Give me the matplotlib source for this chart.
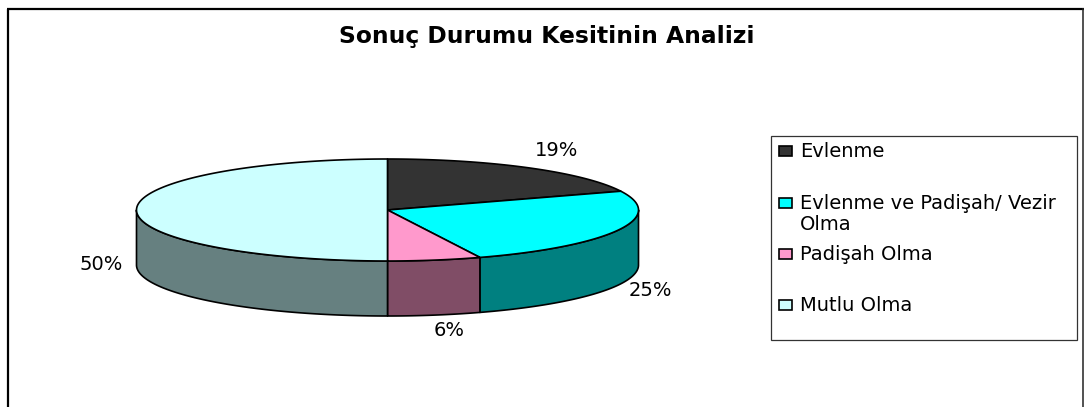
import numpy as np
import matplotlib
matplotlib.use("Agg")
import matplotlib.pyplot as plt
from matplotlib.patches import Rectangle

plt.rcParams['font.family'] = ['DejaVu Sans']

title = "Sonuç Durumu Kesitinin Analizi"
categories = ["Evlenme", "Evlenme ve Padişah/ Vezir\nOlma", "Padişah Olma", "Mutlu Olma"]
values = [19, 25, 6, 50]
top_colors = ["#333333", "#00FFFF", "#FF99CC", "#CCFFFF"]
side_colors = ["#1A1A1A", "#008080", "#804D66", "#668080"]

CX, CY, RX, RY, DEPTH = 387.5, 210, 251, 51, 55
LABEL_POS = [(557, 150), (650, 291), (449, 331), (101, 265)]
LEGEND_Y = [151, 203, 254, 305]
LINE = 1.2


def rim(a, b):
    # angles in degrees, clockwise from north
    t = np.radians(np.linspace(a, b, 200))
    return CX + RX * np.sin(t), CY - RY * np.cos(t)


fig = plt.figure(figsize=(10.84, 4.07), dpi=100)
ax = fig.add_axes([0, 0, 1, 1])
ax.set_xlim(0, 1084)
ax.set_ylim(407, 0)
ax.axis("off")

# outer frame, cut off by the bottom of the image
ax.plot([8, 8], [407, 8.5], color="black", lw=1.6, solid_capstyle="butt")
ax.plot([7, 1084], [8.5, 8.5], color="black", lw=1.6, solid_capstyle="butt")
ax.plot([1083, 1083], [8, 407], color="#222222", lw=1.1, solid_capstyle="butt")

ax.text(546.5, 37, title, fontsize=16.8, fontweight="bold", ha="center", va="center")

edges = np.cumsum([0] + values) * 3.6

# side walls: only the front half of the pie shows
for i in range(len(values)):
    a, b = max(edges[i], 90), min(edges[i + 1], 270)
    if a >= b:
        continue
    x, y = rim(a, b)
    ax.fill(np.r_[x, x[::-1]], np.r_[y, y[::-1] + DEPTH],
            facecolor=side_colors[i], edgecolor="black", lw=LINE, joinstyle="round")

# top face
for i in range(len(values)):
    x, y = rim(edges[i], edges[i + 1])
    ax.fill(np.r_[CX, x], np.r_[CY, y],
            facecolor=top_colors[i], edgecolor="black", lw=LINE, joinstyle="round")

for v, (lx, ly) in zip(values, LABEL_POS):
    ax.text(lx, ly, f"{v}%", fontsize=14, ha="center", va="center")

# legend box
ax.add_patch(Rectangle((771, 136), 306, 204, facecolor="white", edgecolor="#333333", lw=0.9))
for name, color, ly in zip(categories, top_colors, LEGEND_Y):
    ax.add_patch(Rectangle((779, ly - 5), 13, 10, facecolor=color, edgecolor="black", lw=LINE))
    ax.text(800, ly - 9, name, fontsize=14, ha="left", va="top", linespacing=1.1)

fig.savefig("out.png", dpi=100)
plt.close(fig)
